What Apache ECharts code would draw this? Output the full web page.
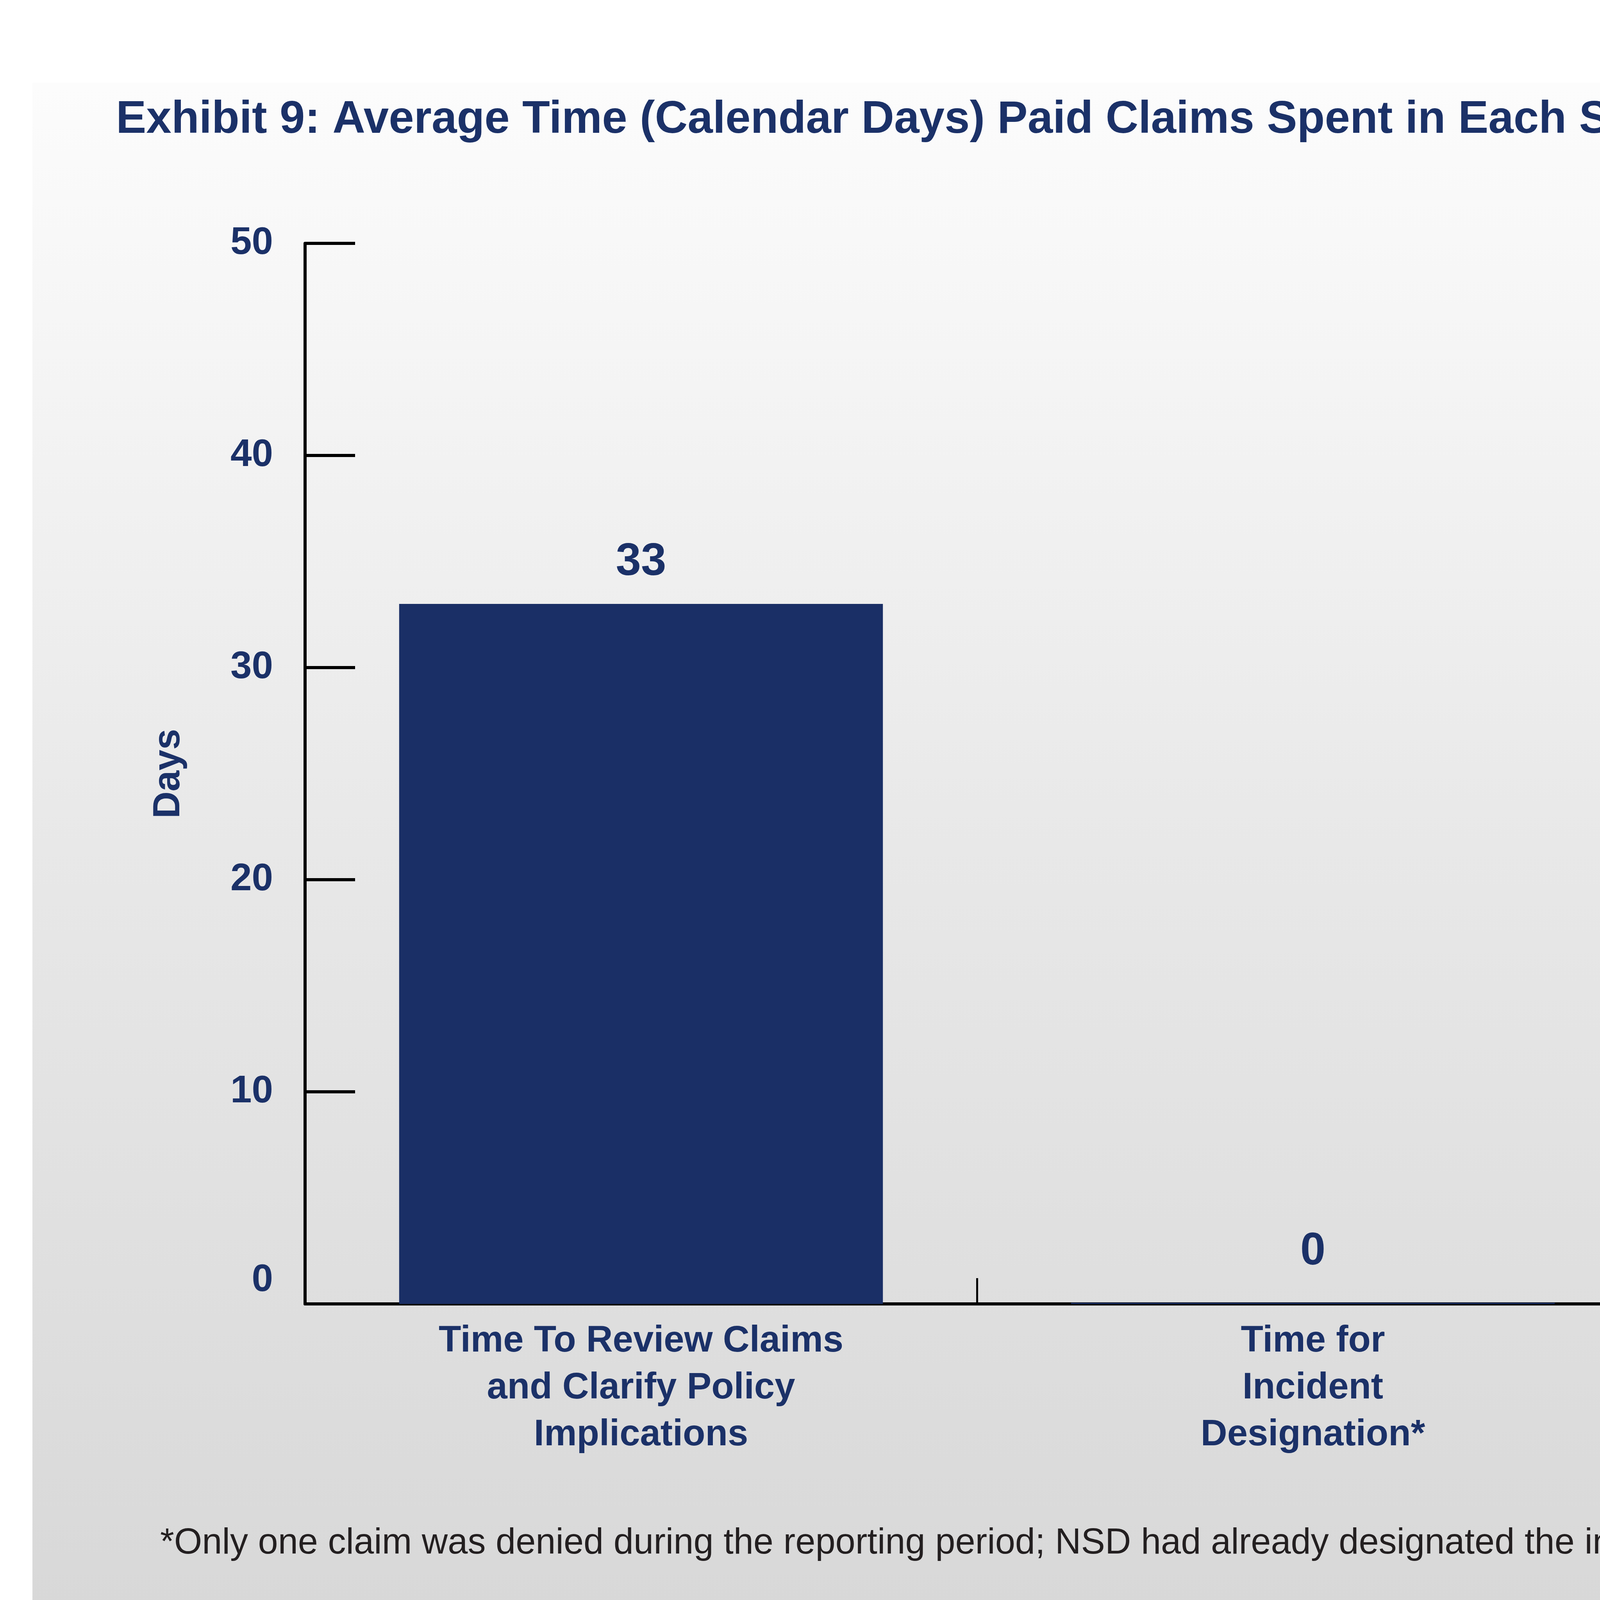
<!DOCTYPE html>
<html><head><meta charset="utf-8">
<script src="https://cdn.jsdelivr.net/npm/echarts@6/dist/echarts.min.js"></script>
<style>html,body{margin:0;padding:0;background:#fff}#c{width:6216px;height:4200px}</style>
</head><body><div id="c"></div>
<script>
const categories = [
  'Time To Review Claims\nand Clarify Policy\nImplications',
  'Time for\nIncident\nDesignation*',
  'Time To Review\nRecommendation\nMemo (OJP)'
];
const values = [33, 0, 22];
const yMin = 0, yMax = 50, yInterval = 10;
const titleText = 'Exhibit 9: Average Time (Calendar Days) Paid Claims Spent in Each Step of the Claims Process';
const footnoteText = '*Only one claim was denied during the reporting period; NSD had already designated the incident.';
const yAxisName = 'Days';

const NAVY = '#1a2f66';
const TEXT_NAVY = '#1b3168';
const FONT = '"Liberation Sans", Arial, Helvetica, sans-serif';
const chart = echarts.init(document.getElementById('c'), null, {renderer: 'canvas'});
const barData = values.map(function (v) {
  return v === 0 ? { value: v, label: { distance: 72 } } : v;
});
const option = {
  backgroundColor: '#ffffff',
  animation: false,
  graphic: { elements: [{
    type: 'rect', z: -100, silent: true,
    shape: { x: 83, y: 212, width: 6105, height: 3913 },
    style: { fill: new echarts.graphic.LinearGradient(0, 0, 0, 1, [
      { offset: 0, color: '#fcfcfc' }, { offset: 0.5, color: '#e8e8e8' }, { offset: 1, color: '#d8d8d8' }
    ]) }
  }]},
  title: [
    { text: titleText, left: 297, top: 250, padding: 0,
      textStyle: { fontFamily: FONT, fontWeight: 'bold', fontSize: 116, color: TEXT_NAVY } },
    { text: footnoteText, left: 410, top: 3906, padding: 0,
      textStyle: { fontFamily: FONT, fontWeight: 'normal', fontSize: 92, color: '#231f20' } }
  ],
  grid: { left: 781, right: 275, top: 623, bottom: 862 },
  xAxis: {
    type: 'category', data: categories, boundaryGap: true,
    axisLine: { lineStyle: { color: '#000', width: 8 } },
    axisTick: { show: true, inside: true, length: 66, alignWithLabel: false, lineStyle: { color: '#000', width: 5 } },
    axisLabel: { interval: 0, margin: 36, fontFamily: FONT, fontWeight: 'bold', fontSize: 94, lineHeight: 120, color: TEXT_NAVY, align: 'center' },
    splitLine: { show: false }
  },
  yAxis: {
    type: 'value', min: yMin, max: yMax, interval: yInterval,
    name: yAxisName, nameLocation: 'middle', nameRotate: 90, nameGap: 300,
    nameTextStyle: { fontFamily: FONT, fontWeight: 'bold', fontSize: 96, color: TEXT_NAVY },
    axisLine: { show: true, lineStyle: { color: '#000', width: 8 } },
    axisTick: { show: true, inside: true, length: 128, lineStyle: { color: '#000', width: 8 } },
    splitLine: { show: false },
    axisLabel: {
      margin: 82, fontFamily: FONT, fontWeight: 'bold', fontSize: 98, color: TEXT_NAVY,
      formatter: function (v) { return v === 0 ? '{z|0}' : '{n|' + v + '}'; },
      rich: {
        z: { fontFamily: FONT, fontWeight: 'bold', fontSize: 98, color: TEXT_NAVY, padding: [0, 0, 120, 0] },
        n: { fontFamily: FONT, fontWeight: 'bold', fontSize: 98, color: TEXT_NAVY }
      }
    }
  },
  series: [{
    type: 'bar', data: barData, barWidth: '72%', barMinHeight: 3,
    itemStyle: { color: NAVY },
    label: { show: true, position: 'top', distance: 48, fontFamily: FONT, fontWeight: 'bold', fontSize: 116, color: TEXT_NAVY }
  }]
};
chart.setOption(option);
</script></body></html>
